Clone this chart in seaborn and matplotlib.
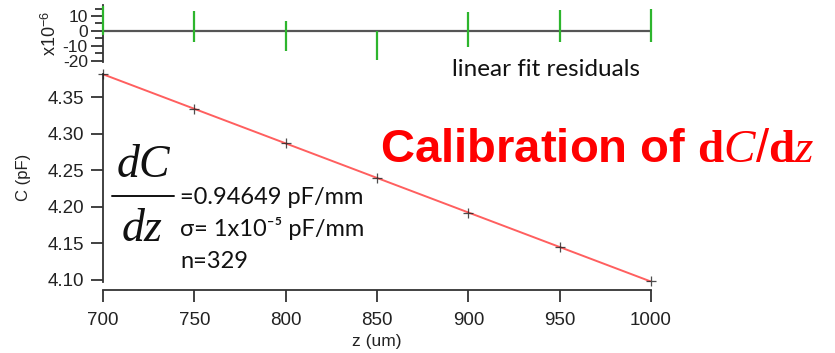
import matplotlib
matplotlib.use("Agg")
import matplotlib.pyplot as plt
import seaborn as sns
import pandas as pd

# Set style
sns.set_theme(style="ticks")
plt.rcParams['font.family'] = ['Liberation Sans', 'DejaVu Sans']
plt.rcParams.update({
    'axes.unicode_minus': False,
    'mathtext.fontset': 'custom',
    'mathtext.rm': 'Liberation Sans',
    'mathtext.it': 'Liberation Serif:italic',
    'mathtext.bf': 'Liberation Serif:bold',
})

# data
z_um = [700, 750, 800, 850, 900, 950, 1000]
cap_pf = [4.381, 4.334, 4.287, 4.239, 4.192, 4.145, 4.098]
# residual spread at each position, x10^-6
resid_hi = [17.0, 13.3, 6.7, 0.0, 12.7, 13.8, 15.0]
resid_lo = [-3.0, -7.8, -13.3, -19.5, -11.1, -7.8, -7.8]

y_ticks = [4.10, 4.15, 4.20, 4.25, 4.30, 4.35]
x_ticks = [700, 750, 800, 850, 900, 950, 1000]
res_ticks = [10, 0, -10, -20]

df = pd.DataFrame({"z": z_um, "C": cap_pf})

fig = plt.figure(figsize=(8.35, 3.53), dpi=100)
ax = fig.add_axes([0.1234, 0.2017, 0.6563, 0.5898])
axr = fig.add_axes([0.1234, 0.8244, 0.6563, 0.1615], sharex=ax)

# main calibration plot
sns.regplot(data=df, x="z", y="C", ax=ax, ci=None, marker="+",
            scatter_kws={"color": "#222222", "s": 60, "linewidths": 0.9,
                         "zorder": 3, "clip_on": False},
            line_kws={"color": "#ff5f5f", "lw": 1.4, "zorder": 2})
ax.set_xlim(700, 1000)
ax.set_ylim(4.0975, 4.382)
ax.set_xticks(x_ticks)
ax.set_yticks(y_ticks)
ax.set_yticklabels([f"{v:.2f}" for v in y_ticks])
for s in ["top", "right"]:
    ax.spines[s].set_visible(False)
ax.spines["bottom"].set_position(("outward", 6))
for s in ["left", "bottom"]:
    ax.spines[s].set_color("#333333")
    ax.spines[s].set_linewidth(1.3)
ax.tick_params(axis="both", direction="out", length=8.5, width=1.3, color="#333333",
               labelsize=13.5, labelcolor="#222222")
ax.tick_params(axis="x", pad=7)
ax.tick_params(axis="y", pad=5)
ax.set_xlabel("z (um)", fontsize=12.5, color="#222222", labelpad=4)
ax.set_ylabel("C (pF)", fontsize=12, color="#222222", labelpad=12)

# residual panel
axr.vlines(z_um, resid_lo, resid_hi, color="#2db52d", lw=1.6, clip_on=False, zorder=4)
axr.axhline(0, color="#555555", lw=1.6, zorder=1)
axr.set_ylim(-21, 17.5)
axr.set_yticks(res_ticks)
axr.set_yticks([15, 5, -5, -15], minor=True)
for s in ["top", "right", "bottom"]:
    axr.spines[s].set_visible(False)
axr.spines["left"].set_color("#333333")
axr.spines["left"].set_linewidth(1.3)
axr.tick_params(axis="x", bottom=False, labelbottom=False)
axr.tick_params(axis="y", which="major", length=9, width=1.3, color="#333333",
                labelsize=12.5, pad=2, labelcolor="#222222")
axr.tick_params(axis="y", which="minor", length=6, width=1.3, color="#333333", left=True)
axr.set_ylabel("x10$^{-6}$", fontsize=13, color="#222222", labelpad=2)
axr.set_xlabel("")
fig.text(546 / 835, 1 - 70 / 353, "linear fit residuals", fontsize=17.5,
         family=["Lato", "DejaVu Sans"], ha="center", va="center", color="#111111")

# slope annotation
fig.text(143 / 835, 1 - 177 / 353, "dC", fontsize=33, family="Liberation Serif",
         style="italic", ha="center", va="baseline", color="#111111")
fig.add_artist(plt.Line2D([112 / 835, 174 / 835], [1 - 196 / 353, 1 - 196 / 353],
                          color="#111111", lw=1.4))
fig.text(142 / 835, 1 - 241 / 353, "dz", fontsize=33, family="Liberation Serif",
         style="italic", ha="center", va="baseline", color="#111111")
txt_kw = dict(fontsize=17, family=["Lato", "DejaVu Sans"], ha="left", va="center",
              color="#111111")
fig.text(180 / 835, 1 - 197 / 353, "=0.94649 pF/mm", **txt_kw)
fig.text(180 / 835, 1 - 228 / 353, "σ= 1x10⁻⁵ pF/mm", **txt_kw)
fig.text(180 / 835, 1 - 261 / 353, "n=329", **txt_kw)

# headline
fig.text(380 / 835, 1 - 150 / 353, r"Calibration of $\mathbf{d}C/\mathbf{d}z$",
         fontsize=34, fontweight="bold", color="#ff0000", ha="left", va="center")

fig.savefig("out.png", dpi=100)
